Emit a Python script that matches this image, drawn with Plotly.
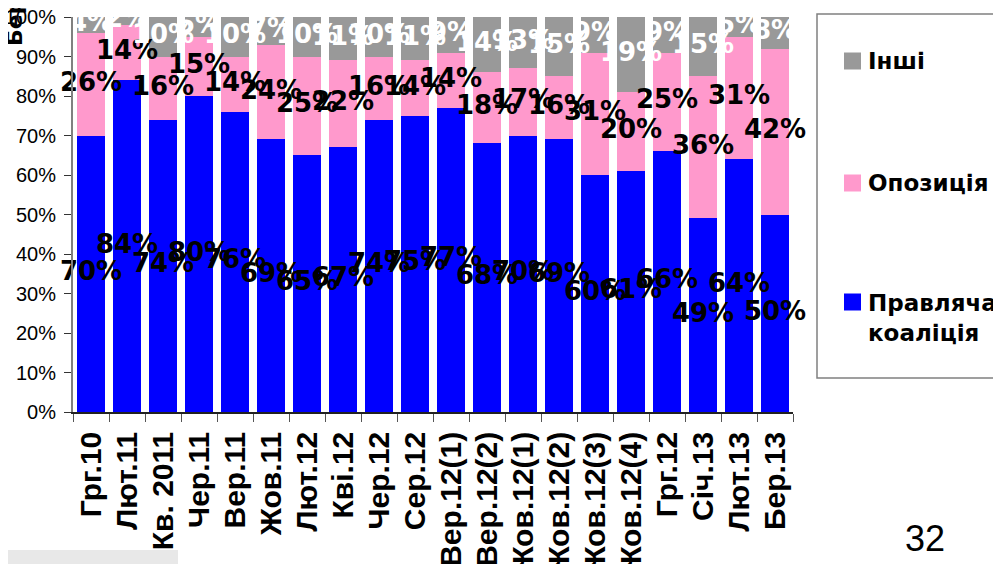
import plotly.graph_objects as go

categories = ["Грг.10", "Лют.11", "Кв. 2011", "Чер.11", "Вер.11", "Жов.11", "Лют.12", "Кві.12",
              "Чер.12", "Сер.12", "Вер.12(1)", "Вер.12(2)", "Жов.12(1)", "Жов.12(2)", "Жов.12(3)",
              "Жов.12(4)", "Грг.12", "Січ.13", "Лют.13", "Бер.13"]
coalition = [70, 84, 74, 80, 76, 69, 65, 67, 74, 75, 77, 68, 70, 69, 60, 61, 66, 49, 64, 50]
opposition = [26, 14, 16, 15, 14, 24, 25, 22, 16, 14, 14, 18, 17, 16, 31, 20, 25, 36, 31, 42]
others = [4, 2, 10, 5, 10, 7, 10, 11, 10, 11, 9, 14, 13, 15, 9, 19, 9, 15, 5, 8]
y_ticks = [0, 10, 20, 30, 40, 50, 60, 70, 80, 90, 100]

BLUE = "#0000FF"
PINK = "#FF99CC"
GRAY = "#999999"

# page offset of the figure inside the browser page (default body margin)
OFF = 8
PL, PR, PT, PB = 73, 793, 17, 412  # plot area in page pixels
PW, PH = PR - PL, PB - PT


def px(x):
    return (x - PL) / PW


def py(y):
    return (PB - y) / PH


fig = go.Figure()
fig.add_trace(go.Bar(x=categories, y=coalition, name="Правляча коаліція", marker_color=BLUE,
                     marker_line_width=0))
fig.add_trace(go.Bar(x=categories, y=opposition, name="Опозиція", marker_color=PINK,
                     marker_line_width=0))
fig.add_trace(go.Bar(x=categories, y=others, name="Інші", marker_color=GRAY,
                     marker_line_width=0))

lab_font = dict(family="DejaVu Sans", size=26, weight="bold")
mid_c = [c / 2 for c in coalition]
mid_o = [c + o / 2 for c, o in zip(coalition, opposition)]
mid_x = [c + o + x / 2 for c, o, x in zip(coalition, opposition, others)]
fig.add_trace(go.Scatter(x=categories, y=mid_c, mode="text", text=[f"{v}%" for v in coalition],
                         textfont=dict(color="black", **lab_font), cliponaxis=False,
                         hoverinfo="skip"))
fig.add_trace(go.Scatter(x=categories, y=mid_o, mode="text", text=[f"{v}%" for v in opposition],
                         textfont=dict(color="black", **lab_font), cliponaxis=False,
                         hoverinfo="skip"))
fig.add_trace(go.Scatter(x=categories, y=mid_x, mode="text", text=[f"{v}%" for v in others],
                         textfont=dict(color="white", **lab_font), cliponaxis=False,
                         hoverinfo="skip"))

fig.update_layout(
    width=1001, height=564,
    barmode="stack", bargap=0.22,
    showlegend=False,
    plot_bgcolor="white", paper_bgcolor="white",
    margin=dict(l=PL - OFF, r=1001 - (PR - OFF), t=PT - OFF, b=564 - (PB - OFF)),
    xaxis=dict(
        type="category", range=[-0.5, len(categories) - 0.5], tickangle=-90,
        tickfont=dict(family="Liberation Sans", size=30, weight="bold", color="black"),
        showline=True, linecolor="#222222", linewidth=1.5,
        ticks="outside", tickson="boundaries", ticklen=8, tickcolor="#555555",
        showgrid=False, automargin=False, ticklabelstandoff=6, ticklabeloverflow="allow",
    ),
    yaxis=dict(
        range=[0, 100], tickvals=y_ticks, ticktext=[f"{v}%" for v in y_ticks],
        tickfont=dict(family="Liberation Sans", size=20, color="black"),
        showline=True, linecolor="#808080", linewidth=2,
        ticks="outside", ticklen=7, tickcolor="#333333", ticklabelstandoff=4,
        showgrid=False, zeroline=False, automargin=False, ticklabeloverflow="allow",
    ),
)

# legend drawn as a framed box
fig.add_shape(type="rect", xref="paper", yref="paper", x0=px(817), x1=px(1012),
              y0=py(378), y1=py(14),
              line=dict(color="#808080", width=1.5), fillcolor="white", layer="below")
legend_items = [("Інші", GRAY, 61, 61), ("Опозиція", PINK, 183, 183),
                ("Правляча<br>коаліція", BLUE, 318, 302)]
for label, col, yc, sq_y in legend_items:
    fig.add_shape(type="rect", xref="paper", yref="paper",
                  x0=px(844), x1=px(861), y0=py(sq_y + 8.5), y1=py(sq_y - 8.5),
                  line=dict(width=0), fillcolor=col)
    fig.add_annotation(xref="paper", yref="paper", x=px(866), y=py(yc),
                       text=label, showarrow=False, xanchor="left", yanchor="middle", align="left",
                       font=dict(family="DejaVu Sans", size=23, weight="bold", color="black"))

# partial rotated text at top-left
fig.add_annotation(xref="paper", yref="paper", x=px(15), y=py(22),
                   text="Бер", textangle=-90, showarrow=False,
                   xanchor="center", yanchor="middle",
                   font=dict(family="DejaVu Sans", size=22, weight="bold", color="black"))
# page number
fig.add_annotation(xref="paper", yref="paper", x=px(925), y=py(538),
                   text="32", showarrow=False, xanchor="center", yanchor="middle",
                   font=dict(family="Liberation Sans", size=36, color="black"))
# light gray strip at bottom-left
fig.add_shape(type="rect", xref="paper", yref="paper", x0=px(0), x1=px(178),
              y0=py(575), y1=py(550),
              line=dict(width=0), fillcolor="#E8E8E8")

fig.write_html("out.html")
